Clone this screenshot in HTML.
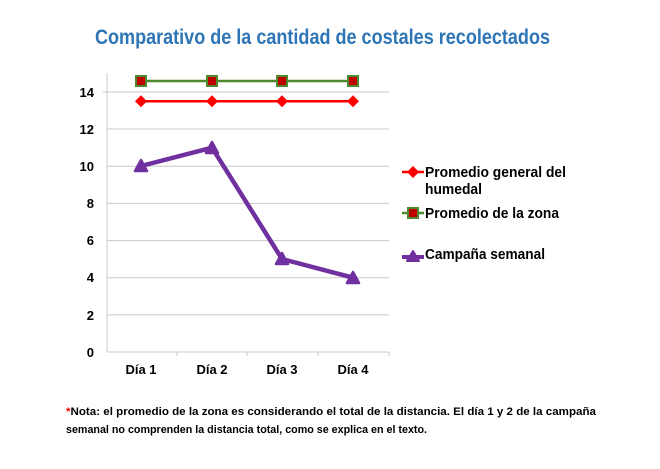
<!DOCTYPE html>
<html><head><meta charset="utf-8"><style>
body{margin:0;background:#fff;}
svg text{font-family:"Liberation Sans",sans-serif;font-weight:bold;}
</style></head><body>
<svg width="660" height="464" viewBox="0 0 660 464" xmlns="http://www.w3.org/2000/svg">
<rect width="660" height="464" fill="#fff"/>
<text x="95" y="44" textLength="455" lengthAdjust="spacingAndGlyphs" font-size="21" fill="#2e75b6">Comparativo de la cantidad de costales recolectados</text>
<g stroke="#c8c8c8" stroke-width="1">
<line x1="107" y1="92" x2="389" y2="92"/>
<line x1="107" y1="129" x2="389" y2="129"/>
<line x1="107" y1="166.3" x2="389" y2="166.3"/>
<line x1="107" y1="203.4" x2="389" y2="203.4"/>
<line x1="107" y1="240.6" x2="389" y2="240.6"/>
<line x1="107" y1="277.7" x2="389" y2="277.7"/>
<line x1="107" y1="314.9" x2="389" y2="314.9"/>
<line x1="107" y1="352" x2="389" y2="352"/>
<line x1="107" y1="73" x2="107" y2="352"/>
<line x1="103" y1="92" x2="107" y2="92"/>
<line x1="177" y1="352" x2="177" y2="356"/>
<line x1="247" y1="352" x2="247" y2="356"/>
<line x1="318" y1="352" x2="318" y2="356"/>
<line x1="389" y1="352" x2="389" y2="356"/>
</g>
<g font-size="13" fill="#000" text-anchor="end">
<text x="94" y="97">14</text><text x="94" y="134">12</text><text x="94" y="171">10</text>
<text x="94" y="208">8</text><text x="94" y="245">6</text><text x="94" y="282">4</text>
<text x="94" y="320">2</text><text x="94" y="357">0</text>
</g>
<g font-size="13" fill="#000" text-anchor="middle">
<text x="141" y="374">Día 1</text><text x="212" y="374">Día 2</text><text x="282" y="374">Día 3</text><text x="353" y="374">Día 4</text>
</g>
<polyline points="141,81 212,81 282,81 353,81" fill="none" stroke="#4e8a2e" stroke-width="2.5"/>
<g fill="#c00000" stroke="#4e8a2e" stroke-width="2">
<rect x="136" y="76" width="10" height="10"/><rect x="207" y="76" width="10" height="10"/><rect x="277" y="76" width="10" height="10"/><rect x="348" y="76" width="10" height="10"/>
</g>
<polyline points="141,101.3 212,101.3 282,101.3 353,101.3" fill="none" stroke="#ff0000" stroke-width="2.5"/>
<g fill="#ff0000">
<polygon points="141,95.3 147,101.3 141,107.3 135,101.3"/><polygon points="212,95.3 218,101.3 212,107.3 206,101.3"/><polygon points="282,95.3 288,101.3 282,107.3 276,101.3"/><polygon points="353,95.3 359,101.3 353,107.3 347,101.3"/>
</g>
<polyline points="141,166 212,147.7 282,259 353,277.7" fill="none" stroke="#7030a0" stroke-width="4.5" stroke-linejoin="round"/>
<g fill="#7030a0" stroke="#7030a0" stroke-width="2.5" stroke-linejoin="round">
<polygon points="141,160 147,171 135,171"/><polygon points="212,142 218,153 206,153"/><polygon points="282,253 288,264 276,264"/><polygon points="353,272 359,283 347,283"/>
</g>
<line x1="402" y1="172" x2="424" y2="172" stroke="#ff0000" stroke-width="2.5"/>
<polygon points="413,166 419,172 413,178 407,172" fill="#ff0000"/>
<line x1="402" y1="213" x2="424" y2="213" stroke="#4e8a2e" stroke-width="2.5"/>
<rect x="408" y="208" width="10" height="10" fill="#c00000" stroke="#4e8a2e" stroke-width="2"/>
<line x1="402" y1="257" x2="424" y2="257" stroke="#7030a0" stroke-width="4"/>
<polygon points="413,251 419,261 407,261" fill="#7030a0" stroke="#7030a0" stroke-width="2" stroke-linejoin="round"/>
<g font-size="14.5" fill="#000">
<text x="425" y="177" textLength="141" lengthAdjust="spacingAndGlyphs">Promedio general del</text>
<text x="425" y="194" textLength="57" lengthAdjust="spacingAndGlyphs">humedal</text>
<text x="425" y="218" textLength="134" lengthAdjust="spacingAndGlyphs">Promedio de la zona</text>
<text x="425" y="259" textLength="120" lengthAdjust="spacingAndGlyphs">Campaña semanal</text>
</g>
<g font-size="11" fill="#000">
<text x="66" y="415" textLength="530" lengthAdjust="spacingAndGlyphs"><tspan fill="#ff0000">*</tspan>Nota: el promedio de la zona es considerando el total de la distancia.  El día 1 y 2 de la campaña</text>
<text x="66" y="433" textLength="361" lengthAdjust="spacingAndGlyphs">semanal no comprenden la distancia total, como se explica en el texto.</text>
</g>
</svg>
</body></html>
